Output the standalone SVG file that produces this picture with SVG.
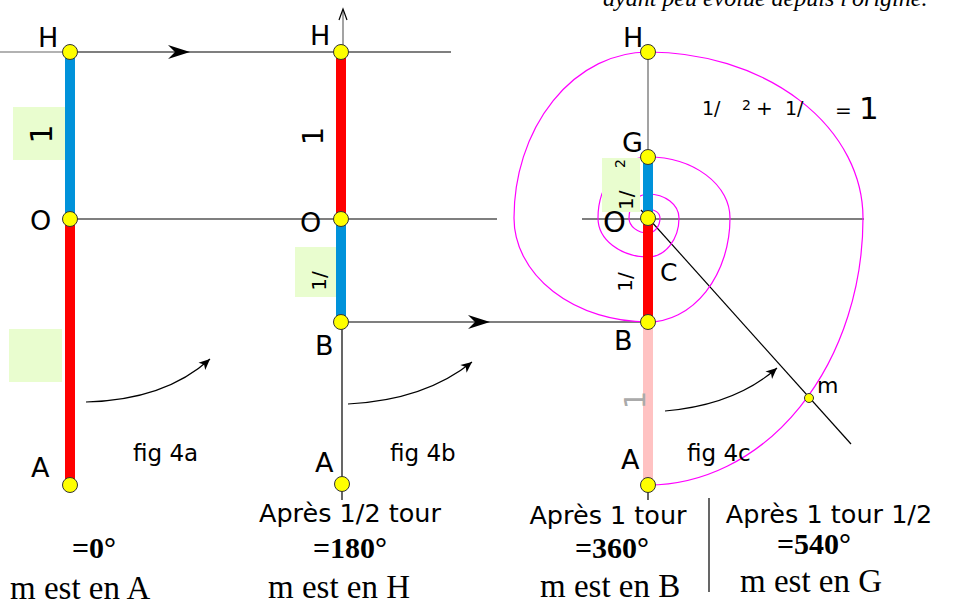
<svg xmlns="http://www.w3.org/2000/svg" width="959" height="608" viewBox="0 0 959 608">
<style>
.sans{font-family:"DejaVu Sans","Liberation Sans",sans-serif;fill:#000}
.serif{font-family:"Liberation Serif","Times New Roman",serif;fill:#000}
.lbl{font-size:27px}
.fig{font-size:23px}
.dot{fill:#ffff00;stroke:#333;stroke-width:1}
.thin{stroke:#000;stroke-width:1.2;fill:none}
.gray{stroke:#666;stroke-width:1.2;fill:none}
.seg{stroke-width:10;fill:none}
.blue{stroke:#0092da}
.red{stroke:#ff0000}
.pink{stroke:#ffc2c2}
.box{fill:#e9fdcf}
.deg{font-size:30px;font-weight:bold}
.pos{font-size:33px}
.apr{font-size:25.5px}
</style>
<defs>
<path id="head" d="M0,0 L-22,-7 L-15,0 L-22,7 Z" fill="#000"/>
<marker id="sm" viewBox="-12 -6 13 12" markerWidth="13" markerHeight="12" refX="0" refY="0" orient="auto" markerUnits="userSpaceOnUse"><path d="M0,0 L-11,-5 L-8,0 L-11,5 Z" fill="#000"/></marker>
</defs>

<text class="serif" x="603" y="6" font-size="24" font-style="italic">ayant peu évolué depuis l'origine.</text>

<g id="connectors">
<line class="gray" x1="0" y1="52" x2="62" y2="52"/>
<line class="thin" x1="70" y1="52" x2="451" y2="52"/>
<use href="#head" x="190" y="52"/>
<line class="thin" x1="70" y1="219" x2="497" y2="219"/>
<line class="gray" x1="343" y1="52" x2="343" y2="10"/>
<path d="M339,20 L343,9 L347,20" fill="none" stroke="#000" stroke-width="1.2"/>
<line class="thin" x1="342" y1="322" x2="648" y2="322"/>
<use href="#head" x="490" y="322"/>
<line class="thin" x1="342" y1="322" x2="342" y2="500"/>
<line class="thin" x1="582" y1="219" x2="864" y2="219"/>
<line class="gray" x1="648" y1="52" x2="648" y2="157"/>
<line class="thin" x1="648" y1="485" x2="648" y2="500"/>
<line class="thin" x1="641" y1="210" x2="851" y2="444"/>
<line class="thin" x1="709" y1="498" x2="709" y2="592"/>
<path class="thin" d="M86,402 Q165,400 210,359" marker-end="url(#sm)"/>
<path class="thin" d="M348,404 Q425,400 472,362" marker-end="url(#sm)"/>
<path class="thin" d="M665,411 Q735,405 777,368" marker-end="url(#sm)"/>
</g>

<g id="spiral">
<path fill="none" stroke="#ff00ff" stroke-width="1.2" d="M648,485 A215,267 0 0 0 863,218 A215,166 0 0 0 648,52 A134,166 0 0 0 514,218 A134,104 0 0 0 648,322 A82,104 0 0 0 730,218 A82,61 0 0 0 648,157 A50,61 0 0 0 598,218 A50,39 0 0 0 648,257 A31,39 0 0 0 679,218 A31,24 0 0 0 648,194 A19,24 0 0 0 629,218 A19,15 0 0 0 648,233 A12,15 0 0 0 660,218 A12,9 0 0 0 648,209"/>
</g>

<g id="fig4a">
<rect class="box" x="13" y="107" width="52" height="53"/>
<rect class="box" x="9" y="329" width="53" height="53"/>
<line class="seg blue" x1="70" y1="52" x2="70" y2="219"/>
<line class="seg red" x1="70" y1="219" x2="70" y2="485"/>
<text class="sans" font-size="30" text-anchor="middle" transform="translate(52,134) rotate(-90)">1</text>
<g id="a-H"><circle class="dot" cx="70" cy="52" r="7.5"/><text class="sans lbl" x="38" y="47">H</text></g>
<g id="a-O"><circle class="dot" cx="70" cy="219" r="7.5"/><text class="sans lbl" x="30" y="230">O</text></g>
<g id="a-A"><circle class="dot" cx="70" cy="485" r="7.5"/><text class="sans lbl" x="31" y="477">A</text></g>
<text class="sans fig" x="133" y="461">fig 4a</text>
<text class="serif deg" x="72" y="558">=0°</text>
<text class="serif pos" x="10" y="599">m est en A</text>
</g>

<g id="fig4b">
<rect class="box" x="295" y="247" width="42" height="50"/>
<line class="seg red" x1="341" y1="52" x2="341" y2="219"/>
<line class="seg blue" x1="341" y1="219" x2="341" y2="322"/>
<text class="sans" font-size="29" text-anchor="middle" transform="translate(323,136) rotate(-90)">1</text>
<text class="sans" font-size="20" text-anchor="middle" transform="translate(326,281) rotate(-90)">1/</text>
<g id="b-H"><circle class="dot" cx="341" cy="52" r="7.5"/><text class="sans lbl" x="310" y="45">H</text></g>
<g id="b-O"><circle class="dot" cx="341" cy="219" r="7.5"/><text class="sans lbl" x="300" y="232">O</text></g>
<g id="b-B"><circle class="dot" cx="341" cy="322" r="7.5"/><text class="sans lbl" x="315" y="355">B</text></g>
<g id="b-A"><circle class="dot" cx="342" cy="484" r="7.5"/><text class="sans lbl" x="315" y="472">A</text></g>
<text class="sans fig" x="390" y="461">fig 4b</text>
<text class="sans apr" x="350" y="522" text-anchor="middle">Après 1/2 tour</text>
<text class="serif deg" x="313" y="558">=180°</text>
<text class="serif pos" x="268" y="598">m est en H</text>
</g>

<g id="fig4c">
<rect class="box" x="602" y="158" width="38" height="54"/>
<line class="seg blue" x1="648" y1="157" x2="648" y2="218"/>
<line class="seg red" x1="648" y1="218" x2="648" y2="322"/>
<line class="seg pink" x1="648" y1="322" x2="648" y2="485"/>
<text class="sans" font-size="20" transform="translate(633,210) rotate(-90)">1/<tspan x="42" y="-8" font-size="14">2</tspan></text>
<text class="sans" font-size="20" text-anchor="middle" transform="translate(632,282) rotate(-90)">1/</text>
<text class="sans" font-size="29" text-anchor="middle" style="fill:#aaa" transform="translate(645,400) rotate(-90)">1</text>
<g id="c-H"><circle class="dot" cx="648" cy="52" r="7.5"/><text class="sans lbl" x="623" y="47">H</text></g>
<g id="c-G"><circle class="dot" cx="648" cy="157" r="7.5"/><text class="sans lbl" x="622" y="152">G</text></g>
<g id="c-O"><circle class="dot" cx="648" cy="218" r="7.5"/><text class="sans" font-size="29" x="603" y="232">O</text></g>
<g id="c-B"><circle class="dot" cx="648" cy="322" r="7.5"/><text class="sans lbl" x="614" y="350">B</text></g>
<g id="c-A"><circle class="dot" cx="648" cy="485" r="7.5"/><text class="sans lbl" x="621" y="469">A</text></g>
<g id="c-C"><text class="sans" font-size="25" x="660" y="281">C</text></g>
<g id="c-m"><circle class="dot" cx="809" cy="398" r="4.5"/><text class="sans" font-size="22" x="817" y="393">m</text></g>
<text class="sans fig" x="687" y="461">fig 4c</text>
<g id="formula">
<text class="sans" font-size="19" x="702" y="115">1/</text>
<text class="sans" font-size="14" x="742" y="110">2</text>
<text class="sans" font-size="20" x="756" y="115">+</text>
<text class="sans" font-size="19" x="785" y="115">1/</text>
<text class="sans" font-size="20" x="835" y="117">=</text>
<text class="sans" font-size="31" x="859" y="119">1</text>
</g>
<text class="sans apr" x="608" y="524" text-anchor="middle">Après 1 tour</text>
<text class="serif deg" x="575" y="558">=360°</text>
<text class="serif pos" x="540" y="597">m est en B</text>
<text class="sans apr" x="829" y="523" text-anchor="middle">Après 1 tour 1/2</text>
<text class="serif deg" x="777" y="554">=540°</text>
<text class="serif pos" x="740" y="592">m est en G</text>
</g>
</svg>
